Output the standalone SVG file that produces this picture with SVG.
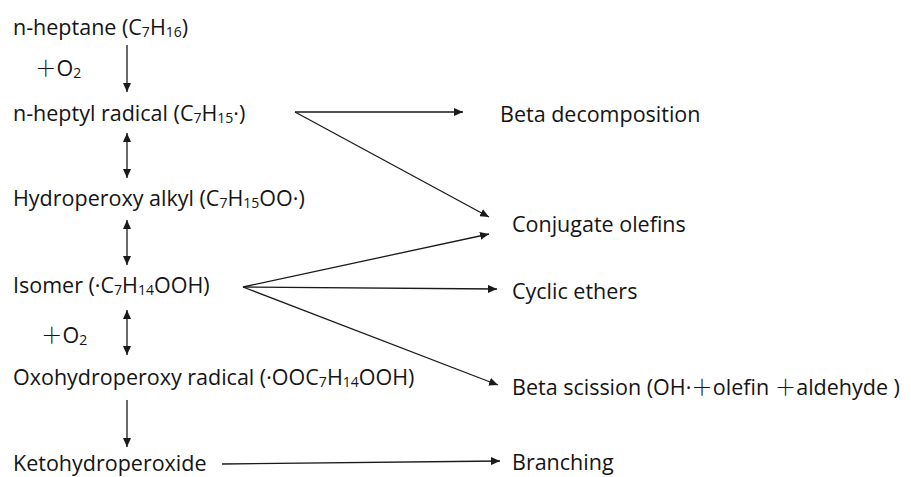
<svg xmlns="http://www.w3.org/2000/svg" width="911" height="477" viewBox="0 0 911 477">
<style>
text{font-family:"Open Sans","Noto Sans","Noto Sans CJK SC",sans-serif;font-size:21.5px;fill:#141414}
.sub{font-size:14px}
.plus{font-family:"Noto Sans CJK SC","Noto Sans CJK JP",sans-serif;font-weight:300}
.c line{stroke:#1a1a1a;stroke-width:1.3;fill:none}
</style>
<defs>
<marker id="ah" markerUnits="userSpaceOnUse" markerWidth="10" markerHeight="8" refX="9" refY="4" orient="auto-start-reverse">
<path d="M0,0 L9,4 L0,8 Z" fill="#1a1a1a"/>
</marker>
</defs>
<rect width="911" height="477" fill="#fff"/>
<g id="n-heptane"><text x="13" y="35">n-heptane (C<tspan class="sub" dy="2">7</tspan><tspan dy="-2">H</tspan><tspan class="sub" dy="2">16</tspan><tspan dy="-2">)</tspan></text></g>
<g id="o2-a"><text x="35" y="76"><tspan class="plus">＋</tspan>O<tspan class="sub" dy="2">2</tspan></text></g>
<g id="heptyl"><text x="13" y="121">n-heptyl radical (C<tspan class="sub" dy="2">7</tspan><tspan dy="-2">H</tspan><tspan class="sub" dy="2">15</tspan><tspan dy="-2">·)</tspan></text></g>
<g id="hydroperoxy"><text x="13" y="206">Hydroperoxy alkyl (C<tspan class="sub" dy="2">7</tspan><tspan dy="-2">H</tspan><tspan class="sub" dy="2">15</tspan><tspan dy="-2">OO·)</tspan></text></g>
<g id="isomer"><text x="13" y="293">Isomer (·C<tspan class="sub" dy="2">7</tspan><tspan dy="-2">H</tspan><tspan class="sub" dy="2">14</tspan><tspan dy="-2">OOH)</tspan></text></g>
<g id="o2-b"><text x="41" y="343"><tspan class="plus">＋</tspan>O<tspan class="sub" dy="2">2</tspan></text></g>
<g id="oxohydroperoxy"><text x="13" y="385">Oxohydroperoxy radical (·OOC<tspan class="sub" dy="2">7</tspan><tspan dy="-2">H</tspan><tspan class="sub" dy="2">14</tspan><tspan dy="-2">OOH)</tspan></text></g>
<g id="keto"><text x="13" y="471">Ketohydroperoxide</text></g>
<g id="beta-decomp"><text x="500" y="122">Beta decomposition</text></g>
<g id="conjugate"><text x="512" y="232">Conjugate olefins</text></g>
<g id="cyclic"><text x="512" y="299">Cyclic ethers</text></g>
<g id="beta-scission"><text x="512" y="395">Beta scission (OH·<tspan class="plus">＋</tspan>olefin <tspan class="plus">＋</tspan>aldehyde )</text></g>
<g id="branching"><text x="512" y="470">Branching</text></g>
<g id="connectors" class="c">
<line x1="127" y1="45" x2="127" y2="92" marker-end="url(#ah)"/>
<line x1="127" y1="133" x2="127" y2="178" marker-start="url(#ah)" marker-end="url(#ah)"/>
<line x1="127" y1="220" x2="127" y2="265" marker-start="url(#ah)" marker-end="url(#ah)"/>
<line x1="127" y1="310" x2="127" y2="355" marker-start="url(#ah)" marker-end="url(#ah)"/>
<line x1="127" y1="400" x2="127" y2="447" marker-end="url(#ah)"/>
<line x1="295" y1="112" x2="463" y2="112" marker-end="url(#ah)"/>
<line x1="295" y1="112" x2="489" y2="217" marker-end="url(#ah)"/>
<line x1="243" y1="287" x2="489" y2="234" marker-end="url(#ah)"/>
<line x1="243" y1="287" x2="497" y2="289" marker-end="url(#ah)"/>
<line x1="243" y1="287" x2="498" y2="385" marker-end="url(#ah)"/>
<line x1="222" y1="464" x2="500" y2="461" marker-end="url(#ah)"/>
</g>
</svg>
